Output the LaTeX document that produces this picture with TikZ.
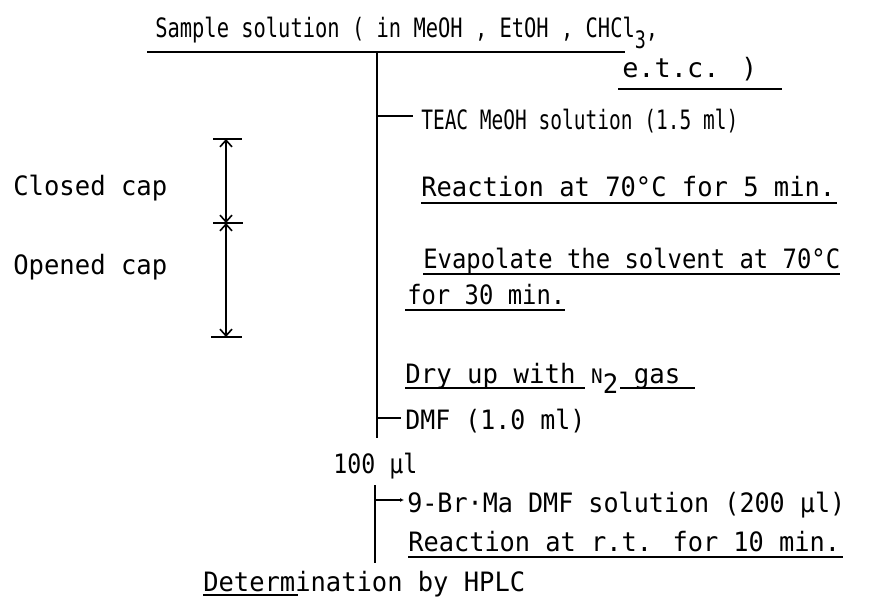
\documentclass[tikz,border=0pt]{standalone}
\usepackage{fontspec}
\setmainfont{DejaVu Sans Mono}
\usepackage{graphicx}
\usetikzlibrary{arrows.meta}
\newlength\pxu \setlength\pxu{0.75pt}
\newcommand\fitto[2]{\resizebox{#1\pxu}{\height}{#2}}
\begin{document}
\begin{tikzpicture}[x=0.75pt,y=-0.75pt,
  txt/.style={anchor=base west, inner sep=0pt, font=\fontsize{20}{24}\selectfont},
  ln/.style={line width=1.4pt},
  ul/.style={line width=1.2pt},
  dimline/.style={line width=1.2pt, {Straight Barb[length=5pt,width=9pt]}-{Straight Barb[length=5pt,width=9pt]}}]
\useasboundingbox (0,0) rectangle (878,598);
% texts
\node[txt] (s1) at (155,38) {\fitto{503}{Sample solution ( in MeOH , EtOH , CHCl\raisebox{-8pt}{\fontsize{18}{20}\selectfont 3},}};
\node[txt] (s2) at (622,78) {\fitto{135}{e.t.c. )}};
\node[txt] (teac) at (421,130) {\fitto{317}{TEAC MeOH solution (1.5 ml)}};
\node[txt] (r1) at (421,197) {\fitto{414}{Reaction at 70°C for 5 min.}};
\node[txt] (e1) at (423,269) {\fitto{417}{Evapolate the solvent at 70°C}};
\node[txt] (e2) at (407,305) {\fitto{158}{for 30 min.}};
\node[txt] (closed) at (13,196) {\fitto{154}{Closed cap}};
\node[txt] (opened) at (13,275) {\fitto{154}{Opened cap}};
\node[txt] (dry) at (405,383) {\fitto{275}{Dry up with {\fontsize{15}{18}\selectfont N}\raisebox{-8pt}{2} gas}};
\node[txt] (dmf) at (405,430) {\fitto{180}{DMF (1.0 ml)}};
\node[txt] (hund) at (333,473) {\fitto{84}{100 µl}};
\node[txt] (br) at (407,512) {\fitto{438}{9-Br·Ma DMF solution (200 µl)}};
\node[txt] (rt) at (408,551) {\fitto{432}{Reaction at r.t. for 10 min.}};
\node[txt] (det) at (203,591) {\fitto{322}{Determination by HPLC}};
% underlines
\draw[ul] (147,52) -- (625,52);
\draw[ul] (618,89) -- (782,89);
\draw[ul] (421,203) -- (837,203);
\draw[ul] (423,274) -- (840,274);
\draw[ul] (405,310) -- (565,310);
\draw[ul] (405,388) -- (585,388);
\draw[ul] (620,388) -- (695,388);
\draw[ul] (408,557) -- (843,557);
\draw[ul] (203,595) -- (298,595);
% main flow line
\coordinate (top) at (377,52);
\coordinate (bot) at (377,438);
\draw[ln] (top) -- (bot);
\coordinate (t1) at (377,116);
\coordinate (t1e) at (413,116);
\draw[ln] (t1) -- (t1e);
\coordinate (t2) at (377,418);
\coordinate (t2e) at (401,418);
\draw[ln] (t2) -- (t2e);
% second flow line
\coordinate (top2) at (375,485);
\coordinate (bot2) at (375,563);
\draw[ln] (top2) -- (bot2);
\coordinate (t3) at (375,500);
\coordinate (t3e) at (404,500);
\draw[ln,-{Latex[length=3pt,width=3pt]}] (t3) -- (t3e);
% bracket
\coordinate (b1) at (226,139);
\coordinate (b2) at (226,223);
\coordinate (b3) at (226,337);
\draw[ln] (213,139) -- (242,139);
\draw[ln] (213,223) -- (243,223);
\draw[ln] (211,337) -- (242,337);
\draw[dimline] (b1) -- (b2);
\draw[dimline] (b2) -- (b3);
\end{tikzpicture}
\end{document}
